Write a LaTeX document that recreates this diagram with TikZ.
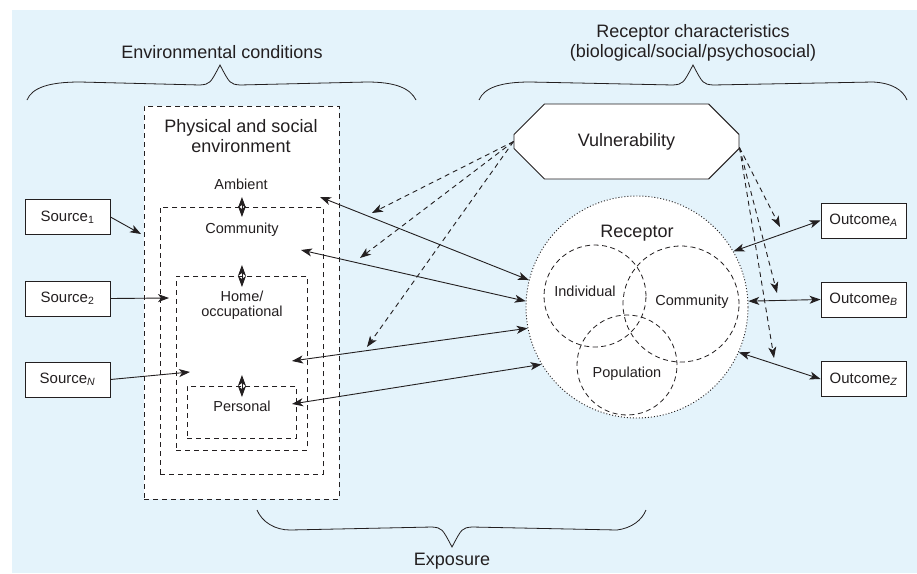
\documentclass[tikz,border=0pt]{standalone}
\usepackage{fontspec}
\setmainfont{Liberation Sans}
\usetikzlibrary{arrows.meta,shapes.misc}
\definecolor{bgblue}{RGB}{228,243,251}
\definecolor{ink}{RGB}{35,31,32}
\tikzset{
  >={Stealth[length=11pt,width=8pt,inset=3pt]},
  box/.style={draw=ink, fill=white, line width=0.9pt, minimum width=85pt,
    minimum height=35pt, inner sep=0pt, text=ink, font=\fontsize{15}{16}\selectfont},
  zone/.style={draw=ink, fill=white, line width=0.9pt, dash pattern=on 5pt off 4pt,
    anchor=north west, inner sep=0pt},
  lbl/.style={text=ink, inner sep=0pt, font=\fontsize{14.5}{15.5}\selectfont, align=center},
  big/.style={text=ink, inner sep=0pt, font=\fontsize{18}{20}\selectfont, align=center},
  part/.style={circle, draw=ink, line width=0.8pt, dash pattern=on 5pt off 3.5pt, inner sep=0pt},
  link/.style={draw=ink, line width=0.9pt, ->},
  both/.style={draw=ink, line width=0.9pt, <->},
  levelarrow/.style={draw=ink, line width=0.9pt, <->},
  effect/.style={link, dash pattern=on 5pt off 4pt},
  curly/.style={draw=ink, line width=0.8pt},
}

\begin{document}
\begin{tikzpicture}[x=1pt, y=-1pt]
  \useasboundingbox (0,0) rectangle (917,573);
  \fill[bgblue] (12,10) rectangle (917,573);

  \node[big, anchor=base] (envcond) at (222,58) {Environmental conditions};
  \node[big] (recchar) at (693,43) {Receptor characteristics\\(biological/social/psychosocial)};
  \node[big, anchor=base] (expo) at (452,565) {Exposure};

  \draw[curly] (27,100) .. controls (32,88) and (48,82) .. (80,82) -- (200,85)
    .. controls (210,84) .. (220,65) .. controls (230,84) .. (240,85) -- (367,82)
    .. controls (395,82) and (410,88) .. (416,100);
  \draw[curly] (479,100) .. controls (484,88) and (500,82) .. (530,82) -- (673,85)
    .. controls (683,84) .. (693,65) .. controls (703,84) .. (713,85) -- (873,82)
    .. controls (892,83) and (903,90) .. (907,100);
  \draw[curly] (257,510) .. controls (262,522) and (275,530) .. (290,530) -- (432,527)
    .. controls (442,528) .. (452,547) .. controls (462,528) .. (472,527) -- (617,530)
    .. controls (632,528) and (642,520) .. (646,510);

  \node[zone, minimum width=195pt, minimum height=393pt] (env) at (144,106) {};
  \node[zone, minimum width=163pt, minimum height=267pt] (comm) at (160,207) {};
  \node[zone, minimum width=131pt, minimum height=174pt] (home) at (176,276) {};
  \node[zone, minimum width=109pt, minimum height=52pt] (pers) at (187,386) {};

  \node[big] (physlbl) at (241,136) {Physical and social\\environment};
  \node[lbl, anchor=base] (amblbl) at (241,189) {Ambient};
  \node[lbl, anchor=base] (commlbl) at (242,233) {Community};
  \node[lbl] (homelbl) at (242,305) {Home/\\occupational};
  \node[lbl, anchor=base] (perslbl) at (242,411) {Personal};

  \draw[levelarrow] ([yshift=10pt]comm.north) -- ([yshift=-10pt]comm.north);
  \draw[levelarrow] ([yshift=11pt]home.north) -- ([yshift=-11pt]home.north);
  \draw[levelarrow] ([yshift=11pt]pers.north) -- ([yshift=-11pt]pers.north);

  \node[box] (src1) at (67.5,217) {Source\textsubscript{1}};
  \node[box] (src2) at (67.5,298.5) {Source\textsubscript{2}};
  \node[box] (srcn) at (67.5,379.5) {Source\textsubscript{\itshape N}};

  \node[box] (outa) at (863.5,220.5) {Outcome\textsubscript{\itshape A}};
  \node[box] (outb) at (863.5,299.5) {Outcome\textsubscript{\itshape B}};
  \node[box] (outz) at (863.5,379) {Outcome\textsubscript{\itshape Z}};

  \node[circle, draw=ink, fill=white, line width=0.9pt, dash pattern=on 1pt off 2pt,
    minimum size=222pt, inner sep=0pt] (rec) at (637,307) {};
  \node[big, anchor=base] (reclbl) at (637,237) {Receptor};
  \node[part, minimum size=102pt] (indiv) at (595,296) {};
  \node[part, minimum size=116pt] (group) at (681,304) {};
  \node[part, minimum size=100pt] (popul) at (627,365) {};
  \node[lbl, anchor=base] (indivlbl) at (585,296) {Individual};
  \node[lbl, anchor=base] (grouplbl) at (692,305) {Community};
  \node[lbl, anchor=base] (popullbl) at (627,377) {Population};

  \node[chamfered rectangle, chamfered rectangle xsep=22pt, chamfered rectangle ysep=22pt,
    draw=ink, fill=white, line width=0.9pt, minimum width=225pt, minimum height=75pt,
    inner sep=0pt, text=ink, font=\fontsize{18}{20}\selectfont] (vuln) at (626.5,141.5) {Vulnerability};

  \coordinate (in1) at (141,234);
  \coordinate (in2) at (169,298);
  \coordinate (inn) at (190,372);
  \draw[link] (src1.east) -- (in1);
  \draw[link] (src2.east) -- (in2);
  \draw[link] (srcn.east) -- (inn);

  \coordinate (ex1) at (320,197);
  \coordinate (ex2) at (301,250);
  \coordinate (ex3) at (292,361);
  \coordinate (ex4) at (292,404);
  \draw[both] (ex1) -- (rec.166);
  \draw[both] (ex2) -- (rec.177);
  \draw[both] (ex3) -- (rec.191);
  \draw[both] (ex4) -- (rec.211);

  \draw[both] (rec.30) -- (outa.west);
  \draw[both] (rec.3) -- (outb.west);
  \draw[both] (rec.-24) -- (outz.west);

  \coordinate (vl1) at (372,213);
  \coordinate (vl2) at (360,258);
  \coordinate (vl3) at (367,347);
  \draw[effect] (vuln.west) -- (vl1);
  \draw[effect] (vuln.west) -- (vl2);
  \draw[effect] (vuln.west) -- (vl3);

  \coordinate (vr1) at (780,227);
  \coordinate (vr2) at (777,293);
  \coordinate (vr3) at (774,358);
  \draw[effect] ([yshift=-6pt]vuln.east) -- (vr1);
  \draw[effect] ([yshift=-6pt]vuln.east) -- (vr2);
  \draw[effect] ([yshift=-6pt]vuln.east) -- (vr3);
\end{tikzpicture}
\end{document}
